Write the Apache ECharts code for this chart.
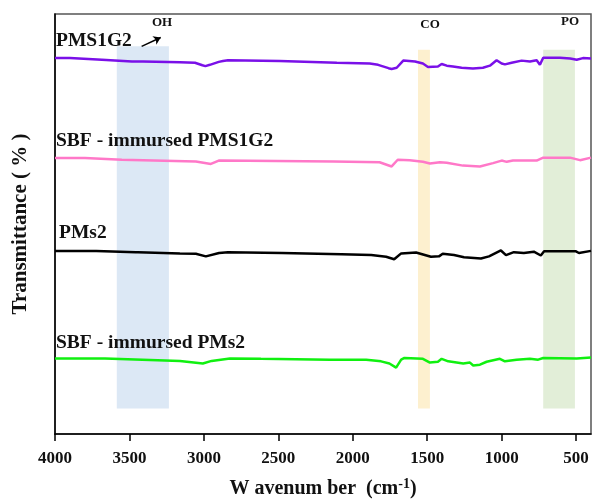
<!DOCTYPE html>
<html>
<head>
<meta charset="utf-8">
<script src="https://cdn.jsdelivr.net/npm/echarts@6/dist/echarts.min.js"></script>
<style>
html,body{margin:0;padding:0;background:#fff;}
#chart{width:592px;height:504px;}
</style>
</head>
<body>
<div id="chart"></div>
<script>
const xTicks = [4000, 3500, 3000, 2500, 2000, 1500, 1000, 500];
const seriesNames = ['PMS1G2', 'SBF - immursed PMS1G2', 'PMs2', 'SBF - immursed PMs2'];
const seriesColors = ['#7a10e8', '#ff78c8', '#000000', '#10f010'];

const pms1g2 = [
  [4000, 89.5], [3900, 89.5], [3895, 89.1], [3685, 89.1], [3680, 88.9], [3483, 88.7], [3409, 88.7],
  [3400, 88.9], [3161, 88.5], [3060, 88.4], [3010, 87.8], [2990, 87.6], [2960, 87.9], [2900, 88.6],
  [2872, 88.8], [2838, 89.0], [2491, 88.8], [2107, 88.4], [1886, 88.2], [1830, 87.9], [1760, 87.1],
  [1739, 86.9], [1705, 87.2], [1661, 88.9], [1582, 88.7], [1529, 88.2], [1495, 87.4], [1428, 87.5],
  [1403, 88.1], [1369, 87.7], [1327, 87.5], [1269, 87.2], [1193, 87.0], [1126, 87.2], [1079, 87.7],
  [1034, 89.0], [1000, 88.2], [978, 88.0], [933, 88.4], [866, 88.9], [810, 88.7], [765, 89.0],
  [743, 87.9], [721, 89.6], [609, 89.6], [540, 89.4], [496, 89.1], [454, 89.5], [400, 89.4]
];
const sbfPms1g2 = [
  [4000, 65.7], [3799, 65.7], [3790, 65.3], [3551, 65.3], [3540, 64.9], [3054, 64.9], [2953, 64.3],
  [2900, 65.1], [2130, 64.9], [1820, 64.7], [1739, 63.7], [1698, 65.3], [1617, 65.2], [1529, 64.8],
  [1482, 64.4], [1415, 64.7], [1369, 64.6], [1260, 63.9], [1146, 63.7], [1058, 64.5], [1000, 65.1],
  [966, 64.8], [924, 65.1], [765, 65.1], [721, 65.8], [541, 65.8], [474, 65.2], [400, 65.8]
];
const pms2 = [
  [4000, 43.6], [3723, 43.6], [3715, 43.3], [3457, 43.3], [3450, 43.0], [3443, 43.3], [3161, 43.0],
  [3054, 42.9], [2987, 42.3], [2898, 43.1], [2838, 43.3], [2476, 43.1], [2076, 42.8], [1876, 42.6],
  [1776, 42.2], [1722, 41.6], [1675, 43.0], [1664, 43.4], [1575, 43.2], [1475, 42.2], [1421, 42.3],
  [1396, 42.9], [1320, 42.6], [1253, 42.1], [1139, 41.8], [1085, 42.3], [1005, 43.7], [971, 42.6],
  [918, 43.3], [851, 43.1], [784, 43.4], [737, 42.5], [715, 43.5], [501, 43.5], [481, 43.1],
  [400, 43.6]
];
const sbfPms2 = [
  [4000, 18.0], [3664, 18.0], [3655, 17.7], [3161, 17.4], [3007, 16.8], [2948, 17.4], [2825, 18.0],
  [2617, 17.9], [2608, 17.7], [2153, 17.7], [1910, 17.7], [1810, 17.3], [1754, 16.8], [1709, 15.8],
  [1675, 17.7], [1653, 18.1], [1529, 17.9], [1482, 17.0], [1428, 17.2], [1403, 17.9], [1359, 17.3],
  [1258, 16.8], [1213, 17.0], [1191, 16.3], [1146, 16.5], [1101, 17.2], [1012, 17.9], [978, 17.3],
  [900, 17.7], [810, 17.9], [755, 17.7], [721, 18.1], [496, 18.0], [400, 18.2]
];
const allSeries = [pms1g2, sbfPms1g2, pms2, sbfPms2];

// absorption bands (wavenumber ranges, vertical extents in transmittance units)
const bandNames = ['OH', 'CO', 'PO'];
const bandFrom = [3585, 1562, 721];
const bandTo = [3235, 1482, 508];
const bandTop = [92.3, 91.5, 91.5];
const bandBottom = [6.1, 6.1, 6.1];
const bandColors = ['#dce8f5', '#fdf0cf', '#e2eed8'];

const serif = '"Liberation Serif", "Times New Roman", serif';

const chart = echarts.init(document.getElementById('chart'), null, {renderer: 'canvas'});

const series = allSeries.map((d, i) => ({
  name: seriesNames[i],
  type: 'line',
  data: d,
  showSymbol: false,
  symbol: 'none',
  smooth: false,
  z: 3,
  lineStyle: {color: seriesColors[i], width: 2.5}
}));

series.push({
  type: 'line',
  data: [],
  z: 1,
  silent: true,
  markArea: {
    silent: true,
    data: bandNames.map((n, i) => [
      {coord: [bandFrom[i], bandTop[i]], itemStyle: {color: bandColors[i], opacity: 1}},
      {coord: [bandTo[i], bandBottom[i]]}
    ])
  },
  markLine: {
    silent: true,
    symbolSize: [7, 7],
    label: {show: false},
    lineStyle: {color: '#000', width: 1.5, type: 'solid'},
    data: [[
      {coord: [3418, 92.3], symbol: 'none'},
      {coord: [3290, 94.4], symbol: 'arrow'}
    ]]
  }
});

const labelPos = [[56, 41], [56, 141], [59, 233], [56, 343]];
const bandLabelPos = [[162, 23], [430, 25], [570, 22]];

const graphics = [];
seriesNames.forEach((n, i) => {
  graphics.push({
    type: 'text', x: labelPos[i][0], y: labelPos[i][1], z: 10,
    style: {text: n, font: 'bold 19.5px ' + serif, fill: '#111', textVerticalAlign: 'middle'}
  });
});
bandNames.forEach((n, i) => {
  graphics.push({
    type: 'text', x: bandLabelPos[i][0], y: bandLabelPos[i][1], z: 10,
    style: {text: n, font: 'bold 13px ' + serif, fill: '#111', textAlign: 'center', textVerticalAlign: 'middle'}
  });
});

chart.setOption({
  animation: false,
  backgroundColor: '#fff',
  grid: {left: 55, right: 1, top: 14, bottom: 67, show: true, borderColor: '#555', borderWidth: 1.5, backgroundColor: 'transparent'},
  xAxis: {
    type: 'value',
    inverse: true,
    min: 400,
    max: 4000,
    name: '{a|W avenum ber  (cm}{s|-1}{a|)}',
    nameLocation: 'middle',
    nameGap: 43,
    nameTextStyle: {
      rich: {
        a: {fontFamily: serif, fontWeight: 'bold', fontSize: 20, color: '#111'},
        s: {fontFamily: serif, fontWeight: 'bold', fontSize: 14, color: '#111', verticalAlign: 'top', padding: [0, 0, 10, 0]}
      }
    },
    axisLine: {show: true, onZero: false, lineStyle: {color: '#000', width: 1.5}},
    axisTick: {show: true, customValues: xTicks, length: 7, lineStyle: {color: '#000', width: 1.5}},
    axisLabel: {show: true, customValues: xTicks, formatter: v => String(v), fontFamily: serif, fontWeight: 'bold', fontSize: 17, color: '#111', margin: 16},
    splitLine: {show: false}
  },
  yAxis: {
    type: 'value',
    min: 0,
    max: 100,
    name: 'Transmittance ( % )',
    nameLocation: 'middle',
    nameGap: 24,
    nameRotate: 90,
    nameTextStyle: {fontFamily: serif, fontWeight: 'bold', fontSize: 21, color: '#111'},
    axisLine: {show: true, lineStyle: {color: '#000', width: 1.5}},
    axisTick: {show: false},
    axisLabel: {show: false},
    splitLine: {show: false}
  },
  series: series,
  graphic: graphics
});
</script>
</body>
</html>
